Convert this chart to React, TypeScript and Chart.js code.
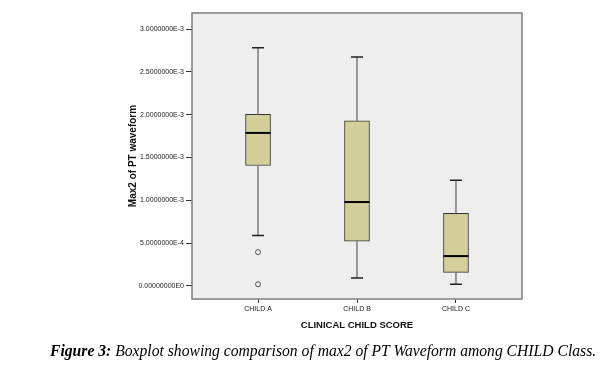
import React, { useEffect, useRef } from 'react';
import { Chart, registerables } from 'chart.js';

Chart.register(...registerables);

const categories = ['CHILD A', 'CHILD B', 'CHILD C'];
const whiskerLow = [0.00059, 0.000093, 0.00002];
const q1 = [0.001407, 0.000523, 0.000159];
const median = [0.001787, 0.00098, 0.000349];
const q3 = [0.002003, 0.001927, 0.000849];
const whiskerHigh = [0.00278, 0.002674, 0.001233];
const outlierCategory = [0, 0];
const outlierValues = [0.000395, 0.00002];
const yTickValues = [0, 0.0005, 0.001, 0.0015, 0.002, 0.0025, 0.003];
const yTickLabels = [
  '0.00000000E0',
  '5.0000000E-4',
  '1.0000000E-3',
  '1.5000000E-3',
  '2.0000000E-3',
  '2.5000000E-3',
  '3.0000000E-3',
];
const yTitle = 'Max2 of PT waveform';
const xTitle = 'CLINICAL CHILD SCORE';

const boxPlugin = {
  id: 'boxExtras',
  beforeDraw(chart: any) {
    const { ctx, chartArea } = chart;
    ctx.save();
    ctx.fillStyle = '#eeeeee';
    ctx.fillRect(chartArea.left, chartArea.top, chartArea.right - chartArea.left, chartArea.bottom - chartArea.top);
    ctx.restore();
  },
  afterDatasetsDraw(chart: any) {
    const { ctx } = chart;
    const xs = chart.scales.x;
    const ys = chart.scales.y;
    ctx.save();
    categories.forEach((_, i) => {
      const x = xs.getPixelForValue(i + 1);
      const yH = ys.getPixelForValue(whiskerHigh[i]);
      const yQ3 = ys.getPixelForValue(q3[i]);
      const yQ1 = ys.getPixelForValue(q1[i]);
      const yL = ys.getPixelForValue(whiskerLow[i]);
      const yM = ys.getPixelForValue(median[i]);
      ctx.strokeStyle = '#7a7a7a';
      ctx.lineWidth = 1.5;
      ctx.beginPath();
      ctx.moveTo(x, yQ3);
      ctx.lineTo(x, yH);
      ctx.moveTo(x, yQ1);
      ctx.lineTo(x, yL);
      ctx.stroke();
      ctx.strokeStyle = '#222222';
      ctx.lineWidth = 1.5;
      ctx.beginPath();
      ctx.moveTo(x - 6, yH);
      ctx.lineTo(x + 6, yH);
      ctx.moveTo(x - 6, yL);
      ctx.lineTo(x + 6, yL);
      ctx.stroke();
      ctx.strokeStyle = '#000000';
      ctx.lineWidth = 2;
      ctx.beginPath();
      ctx.moveTo(x - 12.5, yM);
      ctx.lineTo(x + 12.5, yM);
      ctx.stroke();
    });
    ctx.restore();
  },
  afterDraw(chart: any) {
    const { ctx, chartArea } = chart;
    ctx.save();
    ctx.strokeStyle = '#7f7f7f';
    ctx.lineWidth = 1.5;
    ctx.strokeRect(chartArea.left, chartArea.top, chartArea.right - chartArea.left, chartArea.bottom - chartArea.top);
    ctx.restore();
  },
};

export default function App() {
  const ref = useRef<HTMLCanvasElement | null>(null);
  useEffect(() => {
    if (!ref.current) return;
    const chart = new Chart(ref.current, {
      type: 'bar',
      data: {
        datasets: [
          {
            type: 'bar',
            data: categories.map((_, i) => ({ x: i + 1, y: [q1[i], q3[i]] })) as any,
            backgroundColor: '#d4cf9a',
            borderColor: '#333333',
            borderWidth: 1,
            borderSkipped: false,
            barThickness: 25,
          } as any,
          {
            type: 'scatter',
            data: outlierValues.map((v, i) => ({ x: outlierCategory[i] + 1, y: v })),
            backgroundColor: 'rgba(0,0,0,0)',
            borderColor: '#555555',
            borderWidth: 1,
            pointRadius: 2.5,
          } as any,
        ],
      },
      options: {
        animation: false,
        responsive: false,
        events: [],
        layout: { padding: { left: 123, top: 13, right: 85, bottom: 0 } },
        plugins: { legend: { display: false }, tooltip: { enabled: false } },
        scales: {
          x: {
            type: 'linear',
            min: 0.333,
            max: 3.667,
            offset: false,
            afterBuildTicks: (s: any) => {
              s.ticks = categories.map((_, i) => ({ value: i + 1 }));
            },
            afterFit: (s: any) => {
              s.height = 69;
            },
            ticks: {
              autoSkip: false,
              maxRotation: 0,
              padding: 2,
              color: '#222',
              font: { family: 'Arial, Liberation Sans', size: 7 },
              callback: (v: any) => categories[Math.round(v) - 1],
            },
            grid: { drawOnChartArea: false, drawTicks: true, tickLength: 4, color: '#333', offset: false },
            border: { display: false },
            title: {
              display: true,
              text: xTitle,
              color: '#111',
              font: { family: 'Arial, Liberation Sans', size: 9.5, weight: 'bold' },
              padding: { top: 0, bottom: 37 },
            },
          } as any,
          y: {
            min: -0.000152,
            max: 0.003187,
            afterBuildTicks: (s: any) => {
              s.ticks = yTickValues.map((v) => ({ value: v }));
            },
            afterFit: (s: any) => {
              s.width = 69;
            },
            ticks: {
              padding: 2,
              color: '#222',
              font: { family: 'Arial, Liberation Sans', size: 7 },
              callback: (_v: any, idx: number) => yTickLabels[idx],
            },
            grid: { drawOnChartArea: false, drawTicks: true, tickLength: 6, color: '#333' },
            border: { display: false },
            title: {
              display: true,
              text: yTitle,
              color: '#111',
              font: { family: 'Arial, Liberation Sans', size: 10, weight: 'bold' },
              padding: { top: 4, bottom: 0 },
            },
          } as any,
        },
      },
      plugins: [boxPlugin],
    });
    return () => chart.destroy();
  }, []);

  return (
    <div style={{ position: 'fixed', left: 0, top: 0, width: 607, height: 368, background: '#fff' }}>
      <canvas ref={ref} width={607} height={368} style={{ position: 'absolute', left: 0, top: 0 }} />
      <div
        style={{
          position: 'absolute',
          left: 50,
          top: 342,
          fontFamily: "'Liberation Serif', 'Times New Roman', serif",
          fontStyle: 'italic',
          fontSize: 15.65,
          whiteSpace: 'nowrap',
          color: '#000',
          lineHeight: '18px',
        }}
      >
        <b>Figure 3:</b> Boxplot showing comparison of max2 of PT Waveform among CHILD Class.
      </div>
    </div>
  );
}
